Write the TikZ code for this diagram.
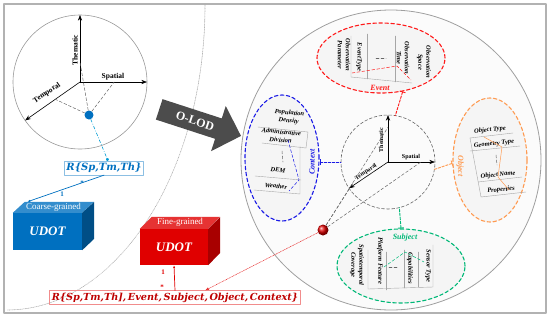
\documentclass[tikz,border=0pt]{standalone}
\usepackage{fontspec}
\setmainfont{Liberation Serif}
\newfontfamily\relfont{DejaVu Serif}
\usetikzlibrary{arrows.meta,shapes.geometric,shapes.arrows}
\definecolor{udotblue}{HTML}{0070C0}
\definecolor{udotred}{HTML}{E00000}
\definecolor{evred}{HTML}{FF1A1A}
\definecolor{ctxblue}{HTML}{1A1AE6}
\definecolor{objorange}{HTML}{FF9A50}
\definecolor{subgreen}{HTML}{00B877}
\begin{document}
\begin{tikzpicture}[x=1pt,y=-1pt,line join=round,line cap=round,>=Stealth]
\tikzset{
  tbl/.style={font=\fontsize{6.5}{8}\selectfont\bfseries\itshape, inner sep=0.5pt, align=center},
  axlbl/.style={font=\fontsize{7.5}{8}\selectfont\bfseries, inner sep=1pt},
  axsmall/.style={font=\fontsize{6}{7}\selectfont\bfseries, inner sep=1pt},
  grule/.style={gray!70, line width=0.4pt},
  gdash/.style={gray!80!black, densely dashed, line width=0.5pt},
  facet/.style={ellipse, line width=1.1pt, fill=gray!8, inner sep=0pt, dash pattern=on 3.5pt off 2.5pt},
  facetlbl/.style={font=\fontsize{8}{9}\selectfont\bfseries\itshape, inner sep=0.5pt},
  facetlink/.style={line width=0.9pt, dash pattern=on 2.5pt off 1.5pt, {Bar[width=6pt]}-},
  cubefront/.style={minimum width=69pt, minimum height=37pt, inner sep=0pt, text=white, font=\fontsize{13}{14}\selectfont\bfseries\itshape},
  relbox/.style={draw, line width=0.6pt, inner sep=2pt, font=\relfont\fontsize{9.7}{12}\selectfont\bfseries\itshape},
  mult/.style={font=\fontsize{7}{8}\selectfont\bfseries, inner sep=0pt}
}
\useasboundingbox (0,0) rectangle (550,317);
\draw[gray!60, line width=1.2pt] (4,4) rectangle (546,313);
\draw[gray!70, densely dotted, line width=0.6pt] (205,5) arc[start angle=0, end angle=-90, x radius=198pt, y radius=305pt];

% coarse-grained side
\node[circle, draw=gray!80, line width=0.6pt, minimum size=134pt, inner sep=0pt, outer sep=0pt] (lc) at (80,82) {};
\draw[->, line width=0.6pt] (lc.center) -- coordinate[pos=0.3] (lth0) (lc.north);
\draw[->, line width=0.6pt] (lc.center) -- coordinate[pos=0.51] (lsp0) (lc.east);
\draw[->, line width=0.6pt] (lc.center) -- coordinate[pos=0.45] (ltm0) (lc.215);
\node[axlbl, rotate=90] (lth) at (75,50) {Thematic};
\node[axlbl] (lsp) at (113,77) {Spatial};
\node[axlbl, rotate=34] (ltm) at (47,93) {Temporal};
\node[circle, fill=udotblue, minimum size=9pt, inner sep=0pt] (bd) at (89,115) {};
\foreach \p in {lth0,lsp0,ltm0}
  \draw[gdash] (bd) -- (\p);

\node[relbox, draw=udotblue!45, text=udotblue, font=\relfont\fontsize{10}{12}\selectfont\bfseries\itshape] (rb) at (104,168) {R\{Sp,Tm,Th\}};
\draw[udotblue!70!cyan, dash dot, line width=0.6pt, -{Circle[length=3pt]}] (bd) -- ([xshift=4pt]rb.north);

\node[cubefront, fill=udotblue] (coarse) at (47.5,231.5) {UDOT};
\fill[udotblue!80!white] (coarse.north west) -- ++(12,-11) -- ++(69,0) -- (coarse.north east) -- cycle;
\fill[udotblue!70!black] (coarse.north east) -- ++(12,-11) -- ++(0,37) -- (coarse.south east) -- cycle;
\node[font=\fontsize{9}{10}\selectfont, text=white, inner sep=0pt] (cgl) at ([shift={(6,-5.5)}]coarse.north) {Coarse-grained};
\coordinate (ctop) at ([shift={(14.5,-11)}]coarse.north west);
\draw[udotblue, line width=0.7pt, -{Latex[length=3pt]}] (rb.south) -- (ctop);
\node[mult, text=udotblue] (bstar) at (82,183) {*};
\node[mult, text=udotblue] (bone) at (62,194) {1};

% fine-grained side
\node[cubefront, fill=udotred, minimum width=68pt, minimum height=36pt] (fine) at (174,247) {UDOT};
\fill[udotred!80!white] (fine.north west) -- ++(12,-12) -- ++(68,0) -- (fine.north east) -- cycle;
\fill[udotred!75!black] (fine.north east) -- ++(12,-12) -- ++(0,36) -- (fine.south east) -- cycle;
\node[font=\fontsize{9}{10}\selectfont, text=white, inner sep=0pt] (fgl) at ([shift={(6,-6)}]fine.north) {Fine-grained};
\node[relbox, draw=udotred!45, text=udotred!85!black] (rx) at (175,297.5) {R\{Sp,Tm,Th],\,Event,\,Subject,\,Object,\,Context\}};
\draw[udotred, line width=0.7pt, -{Latex[length=3pt]}] (rx.north) -- (fine.south);
\node[mult, text=udotred] (rone) at (163,272) {1};
\node[mult, text=udotred] (rstar) at (162,287) {*};

\node[single arrow, fill=black!70, text=white, font=\fontsize{12}{13}\selectfont\bfseries, minimum height=86pt, single arrow head extend=13pt, inner sep=6.5pt, rotate=-18] (olod) at (195,121) {O-LOD};

% O-LOD circle
\node[circle, draw=gray!75, line width=0.8pt, fill=gray!3, minimum size=300pt, inner sep=0pt] (bc) at (391,160) {};
\node[circle, draw=gray!80!black, densely dashed, line width=0.6pt, minimum size=94pt, inner sep=0pt, outer sep=0pt] (cc) at (388,162) {};
\draw[->, line width=0.6pt] (cc.center) -- coordinate[pos=0.74] (cth0) (cc.north);
\draw[->, line width=0.6pt] (cc.center) -- coordinate[pos=0.7] (csp0) (cc.east);
\draw[->, line width=0.6pt] (cc.center) -- coordinate[pos=0.97] (ctm0) (cc.214);
\node[axsmall, rotate=90] (cth) at (381,140) {Thematic};
\node[axsmall] (csp) at (411,157) {Spatial};
\node[axsmall, rotate=34] (ctm) at (366,172) {Temporal};
\node[circle, ball color=udotred, minimum size=11pt, inner sep=0pt] (rd) at (323,230) {};
\foreach \p in {cth0,csp0,ctm0}
  \draw[gdash] (rd) -- (\p);
\draw[udotred!80, densely dotted, line width=0.6pt, -{Latex[length=4pt]}] (rd) -- ([xshift=30pt]rx.north);

% facets
\node[facet, draw=evred, minimum width=128pt, minimum height=70pt] (ev) at (381,58) {};
\node[facet, draw=ctxblue, minimum width=74pt, minimum height=126pt] (cx) at (282,158) {};
\node[facet, draw=objorange, minimum width=74pt, minimum height=124pt] (ob) at (490,160) {};
\node[facet, draw=subgreen, minimum width=128pt, minimum height=74pt] (sb) at (401,266) {};
\node[facetlbl, text=evred] (evl) at (380,88) {Event};
\node[facetlbl, text=ctxblue, rotate=90] (cxl) at (312,162) {Context};
\node[facetlbl, text=objorange, rotate=-90] (obl) at (460,166) {Object};
\node[facetlbl, text=subgreen] (sbl) at (405,238) {Subject};
\draw[facetlink, evred] (ev.303) -- (cc.81);
\draw[facetlink, ctxblue] (cc.west -| cx.east) -- (cc.west);
\draw[facetlink, objorange] (ob.185) -- (cc.-9);
\draw[facetlink, subgreen] (sb.north) -- (cc.-76);

% event table
\node[tbl, rotate=-90] (eop) at (344,55) {Observation\\Parameter};
\node[tbl, rotate=-90] (eet) at (359,57) {EventType};
\node[tbl, rotate=-90] (eot) at (403,58) {Observation\\Time};
\node[tbl, rotate=-90] (eos) at (424,62) {Observation\\Space};
\draw[grule] (351,36) -- (351,77) -- (412,83);
\draw[grule] (367,34) -- (367,79);
\draw[grule] (395,36) -- (395,82);
\draw[gdash] (376,58) -- (386,58);
\draw[evred, densely dashed, line width=0.5pt] (352,73) -- (397,66) -- (411,80);

% context table
\node[tbl, rotate=-6] (cpd) at (289,117) {Population\\Density};
\node[tbl, rotate=-6] (cad) at (281,136) {Administrative\\Division};
\node[tbl, rotate=-6] (cdem) at (278,170) {DEM};
\node[tbl, rotate=-6] (cwt) at (276,186) {Weather};
\draw[grule] (258,127) -- (308,132) -- (306,148);
\draw[grule] (262,143) -- (306,148);
\draw[grule] (255,176) -- (301,180);
\draw[grule] (254,190) -- (300,194) -- (300,146);
\draw[gdash] (282,151) -- (283,162);
\draw[ctxblue, densely dashed, line width=0.5pt] (288,140) -- (299,180) -- (289,191);

% object table
\node[tbl, rotate=6] (oot) at (490,130) {Object Type};
\node[tbl, rotate=6] (ogt) at (494,144) {Geometry Type};
\node[tbl, rotate=6] (oon) at (498,175) {Object Name};
\node[tbl, rotate=6] (opr) at (501,190) {Properties};
\draw[grule] (470,138) -- (513,133);
\draw[grule] (470,151) -- (520,146);
\draw[grule] (478,182) -- (522,177);
\draw[grule] (470,138) -- (481,197) -- (526,192);
\draw[gdash] (496,155) -- (497,165);
\draw[objorange, line width=0.5pt] (484,137) -- (502,147) -- (498,177) -- (509,190);

% subject table
\node[tbl, rotate=-90] (sst) at (357,265) {Spatiotemporal\\Coverage};
\node[tbl, rotate=-90] (spf) at (380,261) {Platform Feature};
\node[tbl, rotate=-90] (scp) at (410,268) {Capabilities};
\node[tbl, rotate=-90] (sse) at (428,266) {Sensor Type};
\draw[grule] (368,250) -- (368,289) -- (433,287) -- (433,245);
\draw[grule] (386,252) -- (386,290);
\draw[grule] (404,250) -- (404,288);
\draw[grule] (418,252) -- (418,287);
\draw[gdash] (389,267) -- (398,267);
\draw[subgreen, densely dashed, line width=0.5pt] (384,267) -- (405,252) -- (424,262);
\end{tikzpicture}
\end{document}
